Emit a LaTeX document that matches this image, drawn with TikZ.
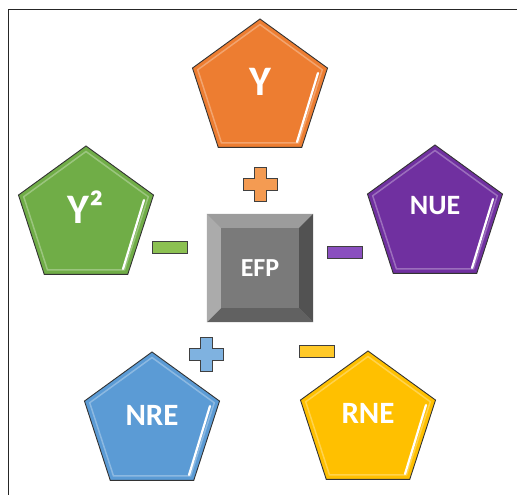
\documentclass[tikz,border=0pt]{standalone}
\usepackage{fontspec}
\newfontfamily\calfont{Carlito}
\usetikzlibrary{shapes.geometric}

\definecolor{cOrange}{HTML}{ED7D31}
\definecolor{cGreen}{HTML}{70AD47}
\definecolor{cPurple}{HTML}{7030A0}
\definecolor{cBlue}{HTML}{5B9BD5}
\definecolor{cYellow}{HTML}{FFC000}
\definecolor{sOrange}{HTML}{F49B52}
\definecolor{sGreen}{HTML}{8CC152}
\definecolor{sPurple}{HTML}{8A4FBF}
\definecolor{sBlue}{HTML}{7FB2E0}
\definecolor{sYellow}{HTML}{FFC928}
\definecolor{keyFace}{HTML}{7A7A7A}
\definecolor{keyTop}{HTML}{9C9C9C}
\definecolor{keyLeft}{HTML}{ABABAB}
\definecolor{keyRight}{HTML}{525252}
\definecolor{keyBottom}{HTML}{616161}

\tikzset{
    plussign/.pic={
        \path[pic actions, draw=black!75, line width=0.8pt]
            (-6,-17) -- (6,-17) -- (6,-6) -- (17,-6) -- (17,6) -- (6,6)
            -- (6,17) -- (-6,17) -- (-6,6) -- (-17,6) -- (-17,-6) -- (-6,-6) -- cycle;
    }
}

\begin{document}
\begin{tikzpicture}[
    x=1pt, y=-1pt,
    pent/.style={regular polygon, regular polygon sides=5, minimum size=142pt,
        inner sep=0pt, draw=black!80, line width=0.9pt, fill=#1},
    gloss/.style={regular polygon, regular polygon sides=5, minimum size=131pt,
        inner sep=0pt, draw=white, draw opacity=0.3, line width=1.5pt},
    shine/.style={white, line width=2.2pt, line cap=round},
    lbl/.style={text=white, inner sep=0pt, font=\calfont\bfseries\fontsize{#1}{#1}\selectfont},
    minusbar/.style={rectangle, minimum width=35pt, minimum height=12pt, inner sep=0pt,
        draw=black!75, line width=0.8pt, fill=#1}
]
\useasboundingbox (0,0) rectangle (517,495);
% frame
\draw[black!85, line width=0.8pt] (8,495) -- (8,9) -- (517,9);

% pentagons
\node[pent=cOrange] (y) at (260,90) {};
\node[gloss] (yg) at (y.center) {};
\draw[shine] ([shift={(58,-17)}]y.center) -- ([shift={(37,52)}]y.center);
\node[lbl=42] (ylbl) at ([yshift=8]y.center) {Y};

\node[pent=cGreen] (ysq) at (86,217) {};
\node[gloss] (ysqg) at (ysq.center) {};
\draw[shine] ([shift={(58,-17)}]ysq.center) -- ([shift={(37,52)}]ysq.center);
\node[lbl=42] (ysqlbl) at ([yshift=10]ysq.center) {Y²};

\node[pent=cPurple] (nue) at (435,216) {};
\node[gloss] (nueg) at (nue.center) {};
\draw[shine] ([shift={(58,-17)}]nue.center) -- ([shift={(37,52)}]nue.center);
\node[lbl=28] (nuelbl) at ([yshift=10]nue.center) {NUE};

\node[pent=cBlue] (nre) at (152,423) {};
\node[gloss] (nreg) at (nre.center) {};
\draw[shine] ([shift={(58,-17)}]nre.center) -- ([shift={(37,52)}]nre.center);
\node[lbl=31] (nrelbl) at ([yshift=8]nre.center) {NRE};

\node[pent=cYellow] (rne) at (368,422) {};
\node[gloss] (rneg) at (rne.center) {};
\draw[shine] ([shift={(58,-17)}]rne.center) -- ([shift={(37,52)}]rne.center);
\node[lbl=31] (rnelbl) at ([yshift=9]rne.center) {RNE};

% centre key
\node[rectangle, minimum width=106pt, minimum height=108pt, inner sep=0pt, fill=keyFace] (efp) at (260,268) {};
\fill[keyTop] (efp.north west) -- (efp.north east) -- ([shift={(-14,14)}]efp.north east) -- ([shift={(14,14)}]efp.north west) -- cycle;
\fill[keyRight] (efp.north east) -- (efp.south east) -- ([shift={(-14,-14)}]efp.south east) -- ([shift={(-14,14)}]efp.north east) -- cycle;
\fill[keyBottom] (efp.south east) -- (efp.south west) -- ([shift={(14,-14)}]efp.south west) -- ([shift={(-14,-14)}]efp.south east) -- cycle;
\fill[keyLeft] (efp.south west) -- (efp.north west) -- ([shift={(14,14)}]efp.north west) -- ([shift={(14,-14)}]efp.south west) -- cycle;
\node[lbl=26] (efplbl) at (efp.center) {EFP};

% signs
\pic[fill=sOrange] at (260,184) {plussign};
\pic[fill=sBlue] at (206,354) {plussign};
\node[minusbar=sGreen] (mgreen) at (170,247.5) {};
\node[minusbar=sPurple] (mpurple) at (345,252) {};
\node[minusbar=sYellow] (myellow) at (317,351) {};
\end{tikzpicture}
\end{document}
